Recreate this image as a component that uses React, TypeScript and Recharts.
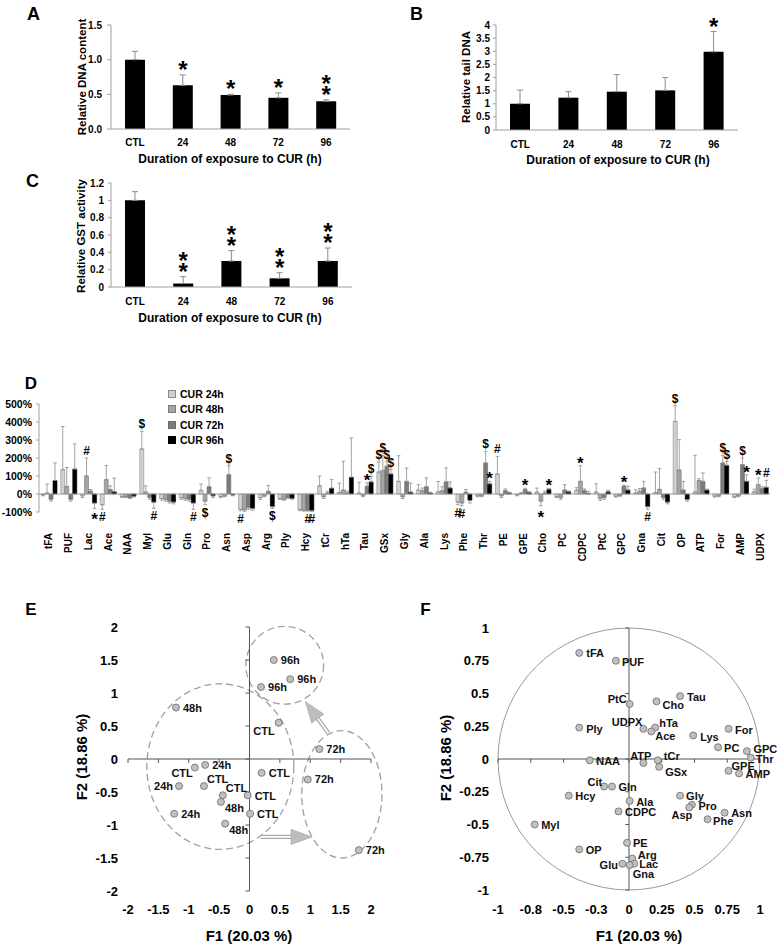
import React from 'react';
import {
  BarChart, Bar, XAxis, YAxis, ErrorBar, LabelList, Legend,
  ScatterChart, Scatter, ReferenceLine, ReferenceArea,
} from 'recharts';

const FONT = '"Liberation Sans", Arial, Helvetica, sans-serif';

// ---------------- Panels A–C ----------------
const durations = ['CTL', '24', '48', '72', '96'];

const dnaContent = [1.0, 0.63, 0.49, 0.45, 0.4];
const dnaContentErr = [0.12, 0.15, 0.01, 0.07, 0.02];
const dnaContentSig = ['', '*', '*', '*', '**'];
const dnaTicks = [0, 0.5, 1, 1.5];

const tailDna = [1.0, 1.23, 1.46, 1.51, 2.98];
const tailDnaErr = [0.52, 0.23, 0.65, 0.49, 0.77];
const tailDnaSig = ['', '', '', '', '*'];
const tailDnaTicks = [0, 0.5, 1, 1.5, 2, 2.5, 3, 3.5, 4];

const gstActivity = [1.0, 0.04, 0.3, 0.1, 0.3];
const gstErr = [0.1, 0.08, 0.12, 0.065, 0.15];
const gstSig = ['', '**', '**', '**', '**'];
const gstTicks = [0, 0.2, 0.4, 0.6, 0.8, 1, 1.2];

// ---------------- Panel D ----------------
const metabolites = ['tFA', 'PUF', 'Lac', 'Ace', 'NAA', 'Myl', 'Glu', 'Gln', 'Pro', 'Asn', 'Asp', 'Arg', 'Ply', 'Hcy', 'tCr', 'hTa', 'Tau', 'GSx', 'Gly', 'Ala', 'Lys', 'Phe', 'Thr', 'PE', 'GPE', 'Cho', 'PC', 'CDPC', 'PtC', 'GPC', 'Gna', 'Cit', 'OP', 'ATP', 'For', 'AMP', 'UDPX'];
const seriesNames = ['CUR 24h', 'CUR 48h', 'CUR 72h', 'CUR 96h'];
const dTicks = [-100, 0, 100, 200, 300, 400, 500];

const cur24 = [-5, 135, -10, -60, -15, 250, -25, -20, 20, -15, -85, -20, -25, -85, 45, 8, 5, 122, 70, 22, 12, -45, -10, 111, -5, 10, -15, 20, 10, -12, 5, 8, 403, 10, -12, -15, 12];
const err24 = [5, 240, 10, 25, 5, 98, 10, 10, 35, 5, 8, 10, 5, 8, 55, 52, 60, 56, 143, 30, 57, 15, 5, 98, 5, 23, 5, 15, 47, 5, 19, 114, 87, 205, 5, 5, 15];
const sig24 = ['', '', '', '#', '', '$', '', '', '', '', '#', '', '', '', '', '', '', '$', '', '', '', '#', '', '#', '', '', '', '', '', '', '', '', '$', '', '', '', ''];

const cur48 = [5, 42, 100, 80, -15, 10, -30, -25, -40, -10, -88, -10, -30, -90, -15, 22, -10, 130, -15, 18, 18, -50, -10, -10, 3, -40, -20, 70, -25, -8, 15, 26, 133, 75, -10, -10, 52];
const err48 = [50, 105, 100, 78, 5, 35, 10, 10, 20, 5, 8, 5, 5, 5, 10, 160, 5, 85, 10, 15, 22, 15, 5, 10, 5, 25, 10, 87, 10, 5, 15, 115, 169, 10, 5, 5, 37];
const sig48 = ['', '', '#', '', '', '', '', '', '$', '', '', '', '', '', '', '', '', '$', '', '', '', '#', '', '', '', '*', '', '*', '', '', '', '', '', '', '', '', '*'];

const cur72 = [-30, -30, 15, 25, -20, -20, -40, -30, 40, 107, -75, 15, -20, -90, 5, 5, 43, 154, 70, 40, 67, 10, 172, 18, 25, 5, 22, 18, -20, 43, 33, -20, 22, 70, 172, 163, 30];
const err72 = [10, 10, 10, 20, 5, 10, 10, 10, 50, 50, 10, 33, 5, 5, 10, 10, 20, 26, 74, 50, 78, 15, 65, 10, 7, 10, 30, 10, 10, 5, 37, 10, 48, 47, 43, 37, 10];
const sig72 = ['', '', '', '', '', '', '', '', '', '$', '', '', '', '#', '', '', '*', '$', '', '', '', '', '$', '', '*', '', '', '', '', '*', '', '', '', '', '$', '$', ''];

const cur96 = [75, 138, -50, 12, -12, -45, -45, -50, -10, -5, -80, -70, -25, -92, 32, 93, 67, 111, 10, 5, 33, -35, 56, 5, 8, 26, 12, 3, 12, 22, -70, -45, -30, 22, 159, 70, 37];
const err96 = [97, 140, 30, 76, 5, 35, 10, 35, 10, 5, 10, 10, 5, 5, 48, 218, 31, 24, 50, 5, 34, 15, 14, 5, 5, 5, 5, 12, 8, 22, 15, 10, 10, 5, 21, 37, 39];
const sig96 = ['', '', '*', '', '', '#', '', '#', '', '', '', '$', '', '#', '', '', '$', '$', '', '', '', '', '*', '', '', '*', '', '', '', '', '#', '', '', '', '$', '*', '#'];

// ---------------- Panel E (scores) ----------------
const eTicks = [-2, -1.5, -1, -0.5, 0, 0.5, 1, 1.5, 2];
const eGroup = ['96h', '96h', '96h', '48h', 'CTL', '72h', '24h', 'CTL', 'CTL', '72h', '24h', 'CTL', 'CTL', 'CTL', '48h', 'CTL', '24h', '48h', '72h'];
const eF1 = [0.4, 0.67, 0.19, -1.21, 0.48, 1.15, -0.73, -0.9, 0.2, 0.96, -1.16, -0.75, -0.44, -0.03, -0.47, 0.01, -1.24, -0.4, 1.8];
const eF2 = [1.5, 1.21, 1.09, 0.78, 0.55, 0.15, -0.09, -0.13, -0.21, -0.31, -0.41, -0.41, -0.55, -0.55, -0.65, -0.83, -0.83, -0.98, -1.38];
// cluster ellipses [x1, x2, y1, y2] in F1/F2 units
const eClusters = [
  [-1.69, 0.73, -1.37, 1.14],
  [-0.06, 1.22, 0.83, 2.01],
  [0.86, 2.18, -1.5, 0.43],
];
// arrows [[fromF1, fromF2], [toF1, toF2]]
const eArrows = [
  [[1.3, 0.39], [0.92, 0.87]],
  [[0.18, -1.18], [1.03, -1.18]],
];
// label placement (px offset from dot, text anchor)
const eLabelPlacement: [number, number, string][] = [
  [7, 4, 'start'], [7, 4, 'start'], [7, 4, 'start'], [7, 4, 'start'], [-4, 12, 'end'],
  [7, 4, 'start'], [7, 4, 'start'], [-2, 9, 'end'], [7, 4, 'start'], [7, 4, 'start'],
  [-6, 4, 'end'], [3, -3, 'start'], [3, -3, 'start'], [7, 5, 'start'], [4, 10, 'start'],
  [7, 4, 'start'], [7, 4, 'start'], [4, 10, 'start'], [7, 4, 'start'],
];

// ---------------- Panel F (loadings) ----------------
const fTicks = [-1, -0.75, -0.5, -0.25, 0, 0.25, 0.5, 0.75, 1];
const fXTickLabels = ['-1', '-0.8', '-0.5', '-0.3', '0', '0.25', '0.5', '0.75', '1'];
const fYTickLabels = ['-1', '-0.75', '-0.5', '-0.25', '0', '0.25', '0.5', '0.75', '1'];
const fNames = ['tFA', 'PUF', 'PtC', 'Cho', 'Tau', 'UDPX', 'hTa', 'Ace', 'Ply', 'Lys', 'For', 'PC', 'GPC', 'Thr', 'NAA', 'ATP', 'tCr', 'GSx', 'GPE', 'AMP', 'Cit', 'Gln', 'Hcy', 'Ala', 'CDPC', 'Gly', 'Pro', 'Asp', 'Phe', 'Asn', 'Myl', 'PE', 'OP', 'Arg', 'Lac', 'Glu', 'Gna'];
const fF1 = [-0.38, -0.1, 0.005, 0.21, 0.39, 0.11, 0.2, 0.17, -0.38, 0.49, 0.76, 0.68, 0.9, 0.93, -0.3, 0.11, 0.22, 0.23, 0.76, 0.84, -0.19, -0.13, -0.46, 0.005, -0.08, 0.39, 0.48, 0.46, 0.6, 0.73, -0.72, -0.015, -0.38, 0.025, 0.04, -0.05, 0.005];
const fF2 = [0.81, 0.75, 0.42, 0.44, 0.48, 0.23, 0.24, 0.21, 0.24, 0.18, 0.23, 0.09, 0.06, 0.01, -0.01, -0.03, -0.01, -0.06, -0.09, -0.11, -0.21, -0.21, -0.28, -0.32, -0.4, -0.28, -0.35, -0.37, -0.46, -0.41, -0.5, -0.64, -0.69, -0.76, -0.8, -0.8, -0.81];
const fLabelPlacement: [number, number, string][] = [
  [7, 4.5, 'start'], [6, 5, 'start'], [-3, -1, 'end'], [6, 8, 'start'], [7, 4.5, 'start'],
  [-1, -2.7, 'end'], [4, -1, 'start'], [4, 8.7, 'start'], [7, 5, 'start'], [7, 5.5, 'start'],
  [6.5, 5.3, 'start'], [6, 5, 'start'], [6.5, 2, 'start'], [5, 5.3, 'start'], [6.5, 5, 'start'],
  [8, -3, 'end'], [6, -0.7, 'start'], [6, 9, 'start'], [3, -1, 'start'], [6.5, 5, 'start'],
  [-2, -1, 'end'], [6.5, 4.7, 'start'], [6.5, 4.7, 'start'], [6.5, 5.3, 'start'], [6.5, 4.7, 'start'],
  [6, 4.7, 'start'], [6.5, 4.7, 'start'], [3, 12, 'end'], [5.5, 5.3, 'start'], [6.5, 4.7, 'start'],
  [6.5, 4.7, 'start'], [6, 4.3, 'start'], [6.5, 4.7, 'start'], [5.5, 0, 'start'], [5, 4, 'start'],
  [-4.5, 5, 'end'], [3, 13, 'start'],
];

// ---------------- helpers ----------------
const barColors = ['#d0d0d0', '#a4a4a4', '#7c7c7c', '#000000'];
const barStrokes = ['#8a8a8a', '#7a7a7a', '#6a6a6a', '#000000'];

function rectOf(p: any) {
  const vb = p.viewBox || {};
  const x = p.x ?? vb.x;
  const y = p.y ?? vb.y;
  const w = p.width ?? vb.width;
  const h = p.height ?? vb.height;
  return { x, y, w, h };
}

// significance stars above bars (panels A–C); stacked stars share one text element
const starContent = (vals: number[], errs: number[]) => (p: any) => {
  const s = p.value;
  if (!s) return null;
  const i = p.index;
  const { x, y, w, h } = rectOf(p);
  const top = Math.min(y, y + h);
  const bottom = Math.max(y, y + h);
  const ppu = (bottom - top) / Math.abs(vals[i]);
  const errTop = top - errs[i] * ppu;
  const cx = x + w / 2;
  return (
    <text x={cx} y={errTop + 3} textAnchor="middle" fontSize={24} fontWeight={700}
      fontFamily={FONT} fill="#000" stroke="none">
      {String(s).split('').map((c, k) => (
        <tspan key={k} x={cx} y={errTop + 3 - k * 11}>{c}</tspan>
      ))}
    </text>
  );
};

// significance marks on the metabolite bars (panel D)
const markContent = (vals: number[], errs: number[]) => (p: any) => {
  const s = p.value;
  if (!s) return null;
  const i = p.index;
  const v = vals[i];
  const { x, y, w, h } = rectOf(p);
  const top = Math.min(y, y + h);
  const bottom = Math.max(y, y + h);
  const ppu = (bottom - top) / Math.abs(v);
  const cx = x + w / 2;
  const isStar = s === '*';
  const fs = isStar ? 17 : 12;
  let by: number;
  if (v >= 0) {
    const errTop = top - errs[i] * ppu;
    by = isStar ? errTop + 3 : errTop - 3;
  } else {
    const errBottom = bottom + errs[i] * ppu;
    by = isStar ? errBottom + 17 : errBottom + 12;
  }
  return (
    <text x={cx} y={by} textAnchor="middle" fontSize={fs} fontWeight={700} fontFamily={FONT}
      fill="#000" stroke="none">{s}</text>
  );
};

const MetaboliteTick = (p: any) => (
  <text x={p.x} y={p.y} transform={`rotate(-90, ${p.x}, ${p.y})`} textAnchor="end"
    dominantBaseline="central" fontSize={10} fontWeight={700} fontFamily={FONT} fill="#000">
    {p.payload.value}
  </text>
);

const EllipseShape = (p: any) => (
  <ellipse cx={p.x + p.width / 2} cy={p.y + p.height / 2} rx={Math.abs(p.width) / 2}
    ry={Math.abs(p.height) / 2} fill="none" stroke="#a0a0a0" strokeWidth={1.3} strokeDasharray="7 4" />
);

const CircleShape = (p: any) => (
  <ellipse cx={p.x + p.width / 2} cy={p.y + p.height / 2} rx={Math.abs(p.width) / 2}
    ry={Math.abs(p.height) / 2} fill="none" stroke="#9a9a9a" strokeWidth={1} />
);

const ArrowShape = (p: any) => {
  const { x1, y1, x2, y2 } = p;
  const dx = x2 - x1;
  const dy = y2 - y1;
  const L = Math.hypot(dx, dy) || 1;
  const ux = dx / L;
  const uy = dy / L;
  const nx = -uy;
  const ny = ux;
  const head = 21;
  const hw = 7.5;
  const g = 1.5;
  const bx = x2 - ux * head;
  const by = y2 - uy * head;
  return (
    <g>
      <line x1={x1 + nx * g} y1={y1 + ny * g} x2={bx + nx * g} y2={by + ny * g} stroke="#a8a8a8" strokeWidth={1.2} />
      <line x1={x1 - nx * g} y1={y1 - ny * g} x2={bx - nx * g} y2={by - ny * g} stroke="#a8a8a8" strokeWidth={1.2} />
      <polygon points={`${x2},${y2} ${bx + nx * hw},${by + ny * hw} ${bx - nx * hw},${by - ny * hw}`}
        fill="#bdbdbd" stroke="#adadad" strokeWidth={0.8} />
    </g>
  );
};

const pointShape = (names: string[], place: [number, number, string][]) => (p: any) => {
  const i = p.payload.i;
  const [dx, dy, anchor] = place[i];
  return (
    <g>
      <circle cx={p.cx} cy={p.cy} r={3.5} fill="#c0c0c0" stroke="#6a6a6a" strokeWidth={0.8} />
      <text x={p.cx + dx} y={p.cy + dy} textAnchor={anchor as any} fontSize={11} fontWeight={700}
        fontFamily={FONT} fill="#111">{names[i]}</text>
    </g>
  );
};

const Txt = ({ x, y, size, children, rotate }: any) => (
  <div style={{
    position: 'absolute', left: x, top: y,
    transform: `translate(-50%, -50%)${rotate ? ' rotate(-90deg)' : ''}`,
    fontFamily: FONT, fontWeight: 700, fontSize: size, whiteSpace: 'nowrap', lineHeight: 1, color: '#000',
  }}>{children}</div>
);

const Abs = ({ left, top, children }: any) => (
  <div style={{ position: 'absolute', left, top }}>{children}</div>
);

const smallTick = { fontSize: 10, fontWeight: 700, fill: '#000', fontFamily: FONT };
const bigTick = { fontSize: 13, fontWeight: 700, fill: '#000', fontFamily: FONT };
const axisGray = { stroke: '#a0a0a0' };

function SmallBars({ vals, errs, sig, ticks, fmt, width, height, margin, xHeight, yWidth, ySize, yMargin, xGap }: any) {
  const data = durations.map((d, i) => ({ cat: d, v: vals[i], e: [0, errs[i]], sig: sig[i] }));
  return (
    <BarChart width={width} height={height} data={data} margin={margin}>
      <XAxis dataKey="cat" height={xHeight} tickLine={false} tickSize={0} tickMargin={xGap}
        axisLine={axisGray} tick={smallTick} interval={0} />
      <YAxis width={yWidth} domain={[ticks[0], ticks[ticks.length - 1]]} ticks={ticks} tickFormatter={fmt}
        tickSize={ySize} tickMargin={yMargin} axisLine={axisGray} tickLine={axisGray} tick={smallTick} interval={0} />
      <Bar dataKey="v" fill="#000" barSize={20} isAnimationActive={false}>
        <ErrorBar dataKey="e" width={3} stroke="#8c8c8c" strokeWidth={1} />
        <LabelList dataKey="sig" content={starContent(vals, errs)} />
      </Bar>
    </BarChart>
  );
}

const legendContent = (props: any) => {
  const payload = props.payload || [];
  return (
    <div style={{ fontFamily: FONT, fontWeight: 700, fontSize: 10.5, color: '#000' }}>
      {payload.map((e: any, k: number) => (
        <div key={k} style={{ display: 'flex', alignItems: 'center', height: 15.5 }}>
          <span style={{ display: 'inline-block', width: 6, height: 6, background: barColors[k], border: `1px solid ${barStrokes[k]}`, marginRight: 4 }} />
          <span>{e.value}</span>
        </div>
      ))}
    </div>
  );
};

export default function App() {
  const dData = metabolites.map((m, i) => ({
    m,
    v24: cur24[i], v48: cur48[i], v72: cur72[i], v96: cur96[i],
    e24: cur24[i] >= 0 ? [0, err24[i]] : [err24[i], 0],
    e48: cur48[i] >= 0 ? [0, err48[i]] : [err48[i], 0],
    e72: cur72[i] >= 0 ? [0, err72[i]] : [err72[i], 0],
    e96: cur96[i] >= 0 ? [0, err96[i]] : [err96[i], 0],
    s24: sig24[i], s48: sig48[i], s72: sig72[i], s96: sig96[i],
  }));
  const dSeries = [
    { key: 'v24', ek: 'e24', sk: 's24', vals: cur24, errs: err24 },
    { key: 'v48', ek: 'e48', sk: 's48', vals: cur48, errs: err48 },
    { key: 'v72', ek: 'e72', sk: 's72', vals: cur72, errs: err72 },
    { key: 'v96', ek: 'e96', sk: 's96', vals: cur96, errs: err96 },
  ];
  const eData = eF1.map((x, i) => ({ x, y: eF2[i], i }));
  const fData = fF1.map((x, i) => ({ x, y: fF2[i], i }));

  return (
    <div style={{ position: 'absolute', left: 0, top: 0, width: 782, height: 947, background: '#fff', overflow: 'hidden' }}>
      {/* Panel A */}
      <Abs left={0} top={0}>
        <SmallBars vals={dnaContent} errs={dnaContentErr} sig={dnaContentSig} ticks={dnaTicks}
          fmt={(v: number) => v.toFixed(1)} width={390} height={170} xHeight={41}
          margin={{ top: 25, right: 40, left: 0, bottom: 0 }} yWidth={111} ySize={4} yMargin={5} xGap={9.5} />
      </Abs>
      {/* Panel B */}
      <Abs left={390} top={0}>
        <SmallBars vals={tailDna} errs={tailDnaErr} sig={tailDnaSig} ticks={tailDnaTicks}
          fmt={(v: number) => String(v)} width={392} height={170} xHeight={40}
          margin={{ top: 25, right: 44, left: 0, bottom: 0 }} yWidth={106} ySize={3} yMargin={3} xGap={10.5} />
      </Abs>
      {/* Panel C */}
      <Abs left={0} top={170}>
        <SmallBars vals={gstActivity} errs={gstErr} sig={gstSig} ticks={gstTicks}
          fmt={(v: number) => String(v)} width={390} height={150} xHeight={33}
          margin={{ top: 13, right: 38, left: 0, bottom: 0 }} yWidth={111} ySize={3} yMargin={4} xGap={10.5} />
      </Abs>

      {/* Panel D */}
      <Abs left={0} top={380}>
        <BarChart width={782} height={190} data={dData} margin={{ top: 24, right: 12, left: 0, bottom: 0 }}
          barGap={0} barSize={4}>
          <XAxis dataKey="m" height={58} axisLine={false} tickLine={false} tickSize={0} tickMargin={21}
            tick={<MetaboliteTick />} interval={0} />
          <YAxis width={39} domain={[-100, 500]} ticks={dTicks} tickFormatter={(v: number) => `${v}%`}
            tickSize={3} tickMargin={4} axisLine={axisGray} tickLine={axisGray}
            tick={{ fontSize: 10.5, fontWeight: 700, fill: '#000', fontFamily: FONT }} interval={0} />
          <ReferenceLine y={0} stroke="#a0a0a0" />
          <Legend layout="horizontal" verticalAlign="middle" align="center" content={legendContent}
            wrapperStyle={{ left: 168, top: 6, width: 120 }} />
          {dSeries.map((s, k) => (
            <Bar key={s.key} dataKey={s.key} name={seriesNames[k]} fill={barColors[k]} stroke={barStrokes[k]}
              strokeWidth={0.6} isAnimationActive={false}>
              <ErrorBar dataKey={s.ek} width={1.8} stroke="#8c8c8c" strokeWidth={0.8} />
              <LabelList dataKey={s.sk} content={markContent(s.vals, s.errs)} />
            </Bar>
          ))}
        </BarChart>
      </Abs>

      {/* Panel E */}
      <Abs left={0} top={600}>
        <ScatterChart width={390} height={347} margin={{ top: 27, right: 19, left: 0, bottom: 0 }}>
          <XAxis type="number" dataKey="x" domain={[-2, 2]} ticks={eTicks} interval={0} axisLine={false}
            tickLine={false} tickSize={0} tickMargin={14} height={56} tick={bigTick} />
          <YAxis type="number" dataKey="y" domain={[-2, 2]} ticks={eTicks} interval={0} axisLine={false}
            tickLine={false} tickSize={0} tickMargin={10} width={128} tick={bigTick} />
          <ReferenceLine x={0} stroke="#555" />
          <ReferenceLine y={0} stroke="#555" />
          {eTicks.map((t) => (
            <ReferenceLine key={`ex${t}`} segment={[{ x: t, y: 0 }, { x: t, y: -0.06 }]} stroke="#555" />
          ))}
          {eTicks.map((t) => (
            <ReferenceLine key={`ey${t}`} segment={[{ x: -0.066, y: t }, { x: 0, y: t }]} stroke="#555" />
          ))}
          {eClusters.map((c, k) => (
            <ReferenceArea key={`c${k}`} x1={c[0]} x2={c[1]} y1={c[2]} y2={c[3]} ifOverflow="visible" shape={EllipseShape} />
          ))}
          {eArrows.map((a, k) => (
            <ReferenceLine key={`a${k}`} segment={[{ x: a[0][0], y: a[0][1] }, { x: a[1][0], y: a[1][1] }]}
              ifOverflow="visible" shape={ArrowShape} />
          ))}
          <Scatter data={eData} isAnimationActive={false} shape={pointShape(eGroup, eLabelPlacement)} />
        </ScatterChart>
      </Abs>

      {/* Panel F */}
      <Abs left={390} top={600}>
        <ScatterChart width={392} height={347} margin={{ top: 28, right: 22, left: 0, bottom: 0 }}>
          <XAxis type="number" dataKey="x" domain={[-1, 1]} ticks={fTicks} interval={0} axisLine={false}
            tickLine={false} tickSize={0} tickMargin={15} height={57} tick={bigTick}
            tickFormatter={(v: number) => fXTickLabels[fTicks.indexOf(v)]} />
          <YAxis type="number" dataKey="y" domain={[-1, 1]} ticks={fTicks} interval={0} axisLine={false}
            tickLine={false} tickSize={0} tickMargin={9} width={108} tick={bigTick}
            tickFormatter={(v: number) => fYTickLabels[fTicks.indexOf(v)]} />
          <ReferenceArea x1={-1} x2={1} y1={-1} y2={1} ifOverflow="visible" shape={CircleShape} />
          <ReferenceLine x={0} stroke="#555" />
          <ReferenceLine y={0} stroke="#555" />
          {fTicks.map((t) => (
            <ReferenceLine key={`fx${t}`} segment={[{ x: t, y: 0 }, { x: t, y: -0.028 }]} stroke="#555" />
          ))}
          {fTicks.map((t) => (
            <ReferenceLine key={`fy${t}`} segment={[{ x: -0.028, y: t }, { x: 0, y: t }]} stroke="#555" />
          ))}
          <Scatter data={fData} isAnimationActive={false} shape={pointShape(fNames, fLabelPlacement)} />
        </ScatterChart>
      </Abs>

      {/* Panel letters */}
      <Txt x={33.5} y={14} size={18}>A</Txt>
      <Txt x={416.5} y={14} size={18}>B</Txt>
      <Txt x={32.5} y={181} size={18}>C</Txt>
      <Txt x={31} y={382.5} size={17}>D</Txt>
      <Txt x={31} y={609} size={17}>E</Txt>
      <Txt x={425.5} y={609} size={17}>F</Txt>

      {/* Axis titles */}
      <Txt x={82.5} y={77} size={11.5} rotate>Relative DNA content</Txt>
      <Txt x={230} y={159} size={12}>Duration of exposure to CUR (h)</Txt>
      <Txt x={467} y={77} size={11.5} rotate>Relative tail DNA</Txt>
      <Txt x={618} y={160} size={12}>Duration of exposure to CUR (h)</Txt>
      <Txt x={82} y={236} size={11.5} rotate>Relative GST activity</Txt>
      <Txt x={230} y={318} size={12}>Duration of exposure to CUR (h)</Txt>

      <Txt x={81} y={757} size={15} rotate>F2 (18.86 %)</Txt>
      <Txt x={249} y={935} size={15}>F1 (20.03 %)</Txt>
      <Txt x={445} y={758} size={15} rotate>F2 (18.86 %)</Txt>
      <Txt x={639} y={935} size={15}>F1 (20.03 %)</Txt>
    </div>
  );
}
